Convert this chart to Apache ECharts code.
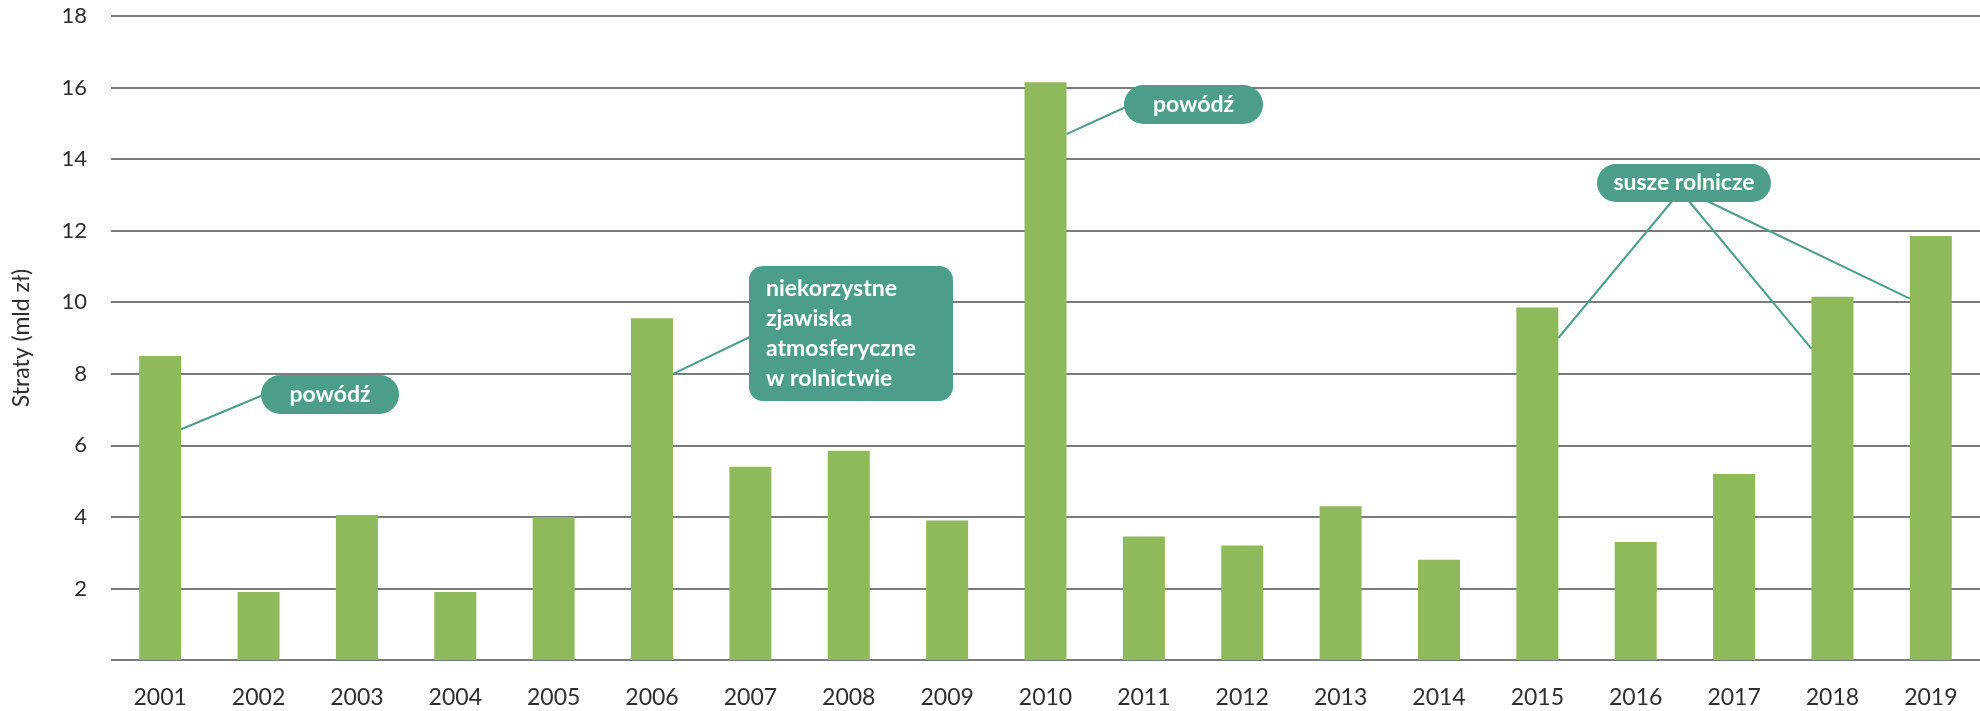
<!DOCTYPE html>
<html><head><meta charset="utf-8">
<script src="https://cdn.jsdelivr.net/npm/echarts@6/dist/echarts.min.js"></script>
<style>html,body{margin:0;padding:0;background:#fff}#c{width:1980px;height:711px}</style>
</head><body><div id="c"></div>
<script>
const years = ['2001','2002','2003','2004','2005','2006','2007','2008','2009','2010','2011','2012','2013','2014','2015','2016','2017','2018','2019'];
const losses = [8.5,1.9,4.05,1.9,4.0,9.55,5.4,5.85,3.9,16.15,3.45,3.2,4.3,2.8,9.85,3.3,5.2,10.15,11.85];
const yAxisTitle = 'Straty (mld zł)';
const noteTexts = ['powódź', 'niekorzystne\nzjawiska\natmosferyczne\nw rolnictwie', 'powódź', 'susze rolnicze'];
// anchors: [category, side of bar, value where the leader line meets the bar]
const noteAnchors = [
  [['2001','right',6.45]],
  [['2006','right',8.0]],
  [['2010','right',14.7]],
  [['2015','right',9.0],['2018','left',8.7],['2019','left',10.1]]
];

const BAR_W = 42;
const TEAL = '#4c9e8b';
const chart = echarts.init(document.getElementById('c'));
chart.setOption({
  animation:false,
  grid:{left:111,right:0,top:16,bottom:51},
  xAxis:{type:'category',data:years,
    axisLine:{show:false},axisTick:{show:false},
    axisLabel:{color:'#2e2e2e',fontFamily:'Lato',fontSize:23,margin:26}},
  yAxis:{type:'value',min:0,max:18,interval:2,
    name:yAxisTitle,nameLocation:'middle',nameGap:78,nameRotate:90,
    nameTextStyle:{color:'#2e2e2e',fontFamily:'Lato',fontSize:23},
    axisLabel:{color:'#2e2e2e',fontFamily:'Lato',fontSize:22,margin:24,formatter:v=>v===0?'':v},
    splitLine:{lineStyle:{color:'#7a7a7a',width:2}},
    axisLine:{show:false},axisTick:{show:false}},
  series:[{type:'bar',data:losses,barWidth:BAR_W,itemStyle:{color:'#8fba5c'},z:2}]
});

// annotation boxes (pixel layout) and leader-line targets on the box
const boxes = [
  {x:261,y:375,w:138,h:39,r:19.5,targets:[[268,393]]},
  {x:749,y:266,w:204,h:135,r:14,targets:[[754,335]]},
  {x:1124,y:85,w:139,h:39,r:19.5,targets:[[1128,106]]},
  {x:1597,y:164,w:174,h:38,r:19,targets:[[1673,200],[1688,200],[1705,200]]}
];
const g = [];
boxes.forEach((b,i)=>{
  noteAnchors[i].forEach((a,j)=>{
    const cx = chart.convertToPixel({xAxisIndex:0}, a[0]);
    const py = chart.convertToPixel({yAxisIndex:0}, a[2]);
    const px = a[1]==='right' ? cx + BAR_W/2 : cx - BAR_W/2;
    const t = b.targets[j];
    g.push({type:'line',shape:{x1:px,y1:py,x2:t[0],y2:t[1]},style:{stroke:TEAL,lineWidth:2},z:10});
  });
  g.push({type:'rect',shape:{x:b.x,y:b.y,width:b.w,height:b.h,r:b.r},style:{fill:TEAL},z:11});
  const multi = noteTexts[i].indexOf('\n')>=0;
  g.push({type:'text',z:12,
    x: multi ? b.x+17 : b.x+b.w/2, y: b.y+b.h/2,
    style:{text:noteTexts[i],fill:'#ffffff',font:'bold 23px Lato',
      align: multi?'left':'center',verticalAlign:'middle',lineHeight:30}});
});
chart.setOption({graphic:g});
</script></body></html>
